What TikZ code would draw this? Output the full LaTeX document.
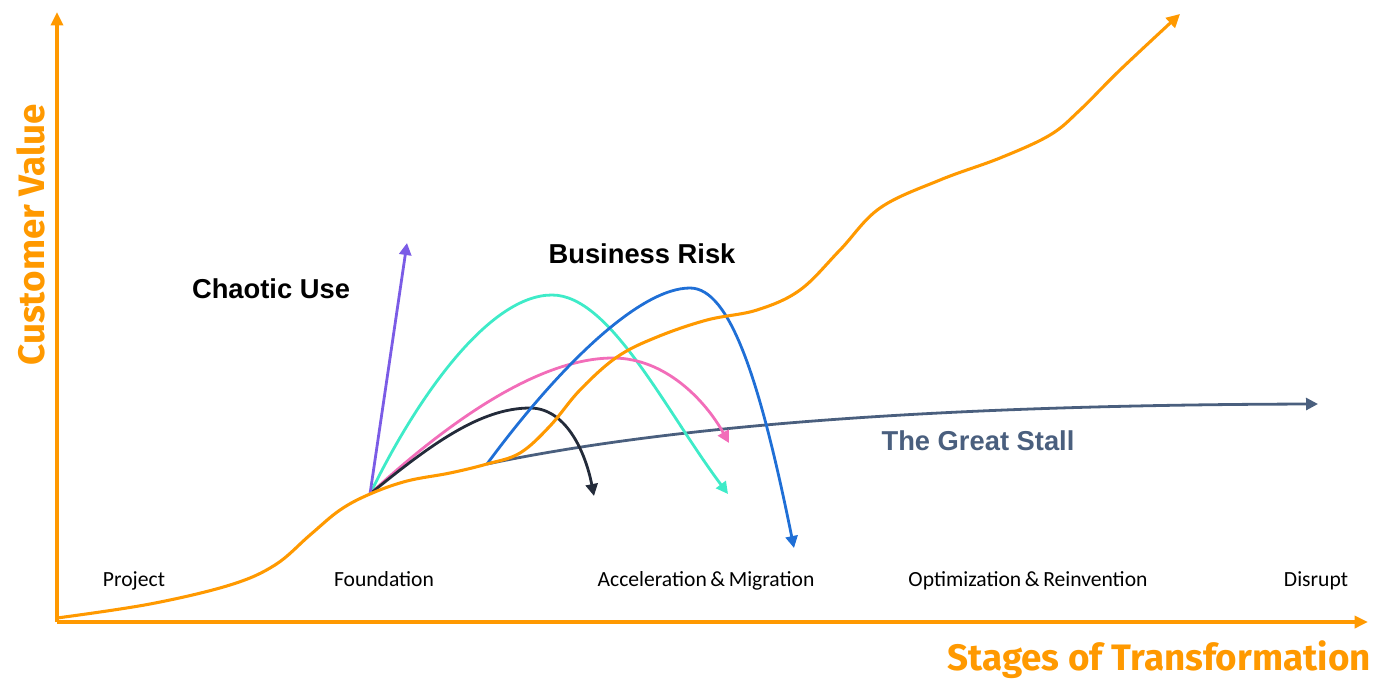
\documentclass[tikz,border=0pt]{standalone}
\usepackage{fontspec}
\setmainfont{Liberation Sans}
\newfontfamily\stagefont{Carlito}
\newfontfamily\axisfont{Fira Sans}
\usetikzlibrary{arrows.meta}
\definecolor{awsorange}{HTML}{FF9900}
\definecolor{stall}{HTML}{4A5F7E}
\definecolor{teal}{HTML}{3EEBC8}
\definecolor{pinkc}{HTML}{F26DB9}
\definecolor{navy}{HTML}{232B3A}
\definecolor{bluec}{HTML}{1F6FD6}
\definecolor{purplec}{HTML}{7B5CE6}
\tikzset{
  axisline/.style={awsorange, line width=3pt, -{Triangle[length=10pt,width=9pt]}},
  maincurve/.style={awsorange, line width=2.3pt, -{Triangle[length=10pt,width=10pt]}},
  riskcurve/.style={line width=2.1pt, -{Triangle[length=9pt,width=9pt]}},
  stagelbl/.style={font=\stagefont\fontsize{16.2}{19}\selectfont, text=black, inner sep=0pt, anchor=base},
  risklbl/.style={font=\fontsize{20.5}{24}\selectfont\bfseries, inner sep=0pt},
  axislbl/.style={font=\axisfont\fontsize{27.6}{32}\selectfont\bfseries, text=awsorange, inner sep=0pt}
}
\begin{document}
\begin{tikzpicture}[x=0.75pt,y=-0.75pt]
\useasboundingbox (0,0) rectangle (1379,679);
% axes
\coordinate (origin) at (57,622);
\coordinate (ytip) at (57,12);
\coordinate (xtip) at (1368,622);
\draw[axisline] (origin) -- (ytip);
\draw[axisline] (origin) -- (xtip);
\node[axislbl, rotate=90] (yl) at (31,235) {Customer Value};
\node[axislbl, anchor=east] (xl) at (1371,660) {Stages of Transformation};
% key points
\coordinate (found) at (370,494);
\coordinate (accel) at (487,464);
\coordinate (mainstart) at (57,618);
\coordinate (maintip) at (1180,14);
\coordinate (purpletip) at (407,243);
\coordinate (tealpeak) at (552,295);
\coordinate (tealtip) at (728,494);
\coordinate (pinkpeak) at (613,358);
\coordinate (pinktip) at (729,443);
\coordinate (navypeak) at (530,408);
\coordinate (navytip) at (594,496);
\coordinate (bluepeak) at (690,288);
\coordinate (bluetip) at (794,548);
\coordinate (stalltip) at (1318,404);
% stall line
\draw[riskcurve, stall] (accel) .. controls (650,430) and (900,405) .. (stalltip);
% teal
\draw[riskcurve, teal] (found) .. controls (418,395) and (490,295) .. (tealpeak)
  .. controls (610,295) and (665,410) .. (tealtip);
% pink
\draw[riskcurve, pinkc] (found) .. controls (450,420) and (540,358) .. (pinkpeak)
  .. controls (665,358) and (705,400) .. (pinktip);
% navy
\draw[riskcurve, navy] (found) .. controls (430,445) and (480,408) .. (navypeak)
  .. controls (565,408) and (585,450) .. (navytip);
% blue
\draw[riskcurve, bluec] (accel) .. controls (560,365) and (640,288) .. (bluepeak)
  .. controls (730,288) and (760,380) .. (bluetip);
% purple
\draw[riskcurve, purplec] (found) -- (purpletip);
% main orange curve
\draw[maincurve] plot[smooth, tension=0.6] coordinates {(mainstart) (150,604) (230,585) (275,565) (310,535) (340,510) (found) (407,481) (450,473) (accel) (520,453) (550,426) (580,390) (617,357) (657,337) (707,320) (757,310) (800,290) (840,250) (880,208) (940,180) (1000,158) (1050,135) (1080,110) (1120,70) (maintip)};
% labels
\node[risklbl] (chaotic) at (271,289) {Chaotic Use};
\node[risklbl] (risk) at (642,254) {Business Risk};
\node[risklbl, text=stall] (stalllbl) at (978,441) {The Great Stall};
\node[stagelbl] (s1) at (134,586) {Project};
\node[stagelbl] (s2) at (384,586) {Foundation};
\node[stagelbl] (s3) at (706,586) {Acceleration\,\&\,Migration};
\node[stagelbl] (s4) at (1028,586) {Optimization\,\&\,Reinvention};
\node[stagelbl] (s5) at (1316,586) {Disrupt};
\end{tikzpicture}
\end{document}
